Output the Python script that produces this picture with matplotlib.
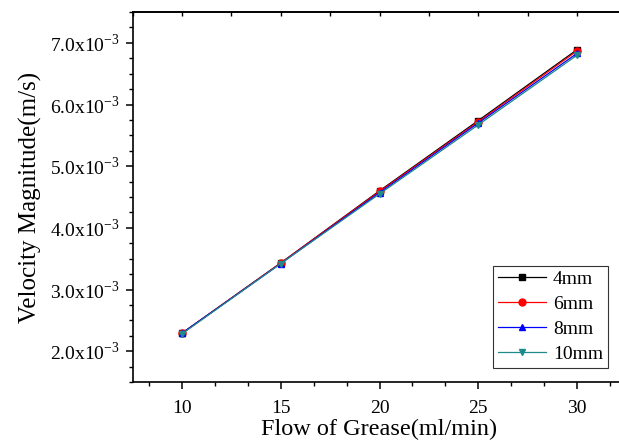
import numpy as np
import matplotlib
matplotlib.use("Agg")
import matplotlib.pyplot as plt
from matplotlib.ticker import MultipleLocator, FuncFormatter

plt.rcParams['font.family'] = ['Liberation Serif', 'DejaVu Serif']
plt.rcParams['mathtext.fontset'] = 'custom'
plt.rcParams['mathtext.rm'] = 'Liberation Serif'

# data
flow = [10, 15, 20, 25, 30]
v_4mm = [2.29e-3, 3.43e-3, 4.60e-3, 5.74e-3, 6.89e-3]
v_6mm = [2.29e-3, 3.43e-3, 4.59e-3, 5.72e-3, 6.87e-3]
v_8mm = [2.29e-3, 3.42e-3, 4.57e-3, 5.70e-3, 6.83e-3]
v_10mm = [2.28e-3, 3.42e-3, 4.55e-3, 5.67e-3, 6.80e-3]

labels = ['4mm', '6mm', '8mm', '10mm']
colors = ['black', 'red', 'blue', '#1f8a8a']
markers = ['s', 'o', '^', 'v']

fig = plt.figure(figsize=(6.19, 4.45), dpi=100)
ax = fig.add_axes([132.5 / 619, 63 / 445, 494 / 619, 370 / 445])

for vals, lab, c, m in zip([v_4mm, v_6mm, v_8mm, v_10mm], labels, colors, markers):
    ax.plot(flow, vals, color=c, marker=m, markersize=5, linewidth=0.9, label=lab)

ax.set_xlim(7.5, 32.5)
ax.set_ylim(1.5e-3, 7.5e-3)

ax.xaxis.set_major_locator(MultipleLocator(5))
ax.xaxis.set_minor_locator(MultipleLocator(5 / 3))
ax.yaxis.set_major_locator(MultipleLocator(1e-3))
ax.yaxis.set_minor_locator(MultipleLocator(0.25e-3))

def fmt(v, pos):
    return r'%.1fx10$^{\mathregular{-3}}$' % (v * 1e3)

ax.yaxis.set_major_formatter(FuncFormatter(fmt))

ax.tick_params(axis='both', which='major', direction='out', length=5, width=1.1, labelsize=14)
ax.tick_params(axis='both', which='minor', direction='out', length=3, width=1.0)
ax.tick_params(axis='y', pad=4)
ax.tick_params(axis='x', pad=8)

# top axis: small inward ticks every 2.5
top = ax.secondary_xaxis('top')
top.xaxis.set_major_locator(MultipleLocator(2.5))
top.xaxis.set_minor_locator(MultipleLocator(2.5))
top.tick_params(direction='in', length=3, width=1.0, labeltop=False)

for s in ['left', 'bottom']:
    ax.spines[s].set_linewidth(1.2)
ax.spines['top'].set_linewidth(1.2)
top.spines['top'].set_linewidth(1.2)
ax.spines['right'].set_visible(False)

ax.set_xlabel('Flow of Grease(ml/min)', fontsize=17.5, labelpad=1)
ax.set_ylabel('Velocity Magnitude(m/s)', fontsize=18, labelpad=6)

leg = ax.legend(loc='lower right', bbox_to_anchor=(608 / 619, (445 - 368) / 445),
                bbox_transform=fig.transFigure, borderaxespad=0, fontsize=14,
                handlelength=2.5, handletextpad=0.35, labelspacing=0.38, borderpad=0.25,
                fancybox=False, framealpha=1, edgecolor='#333333')
leg.get_frame().set_linewidth(0.8)

fig.savefig('out.png', dpi=100)
